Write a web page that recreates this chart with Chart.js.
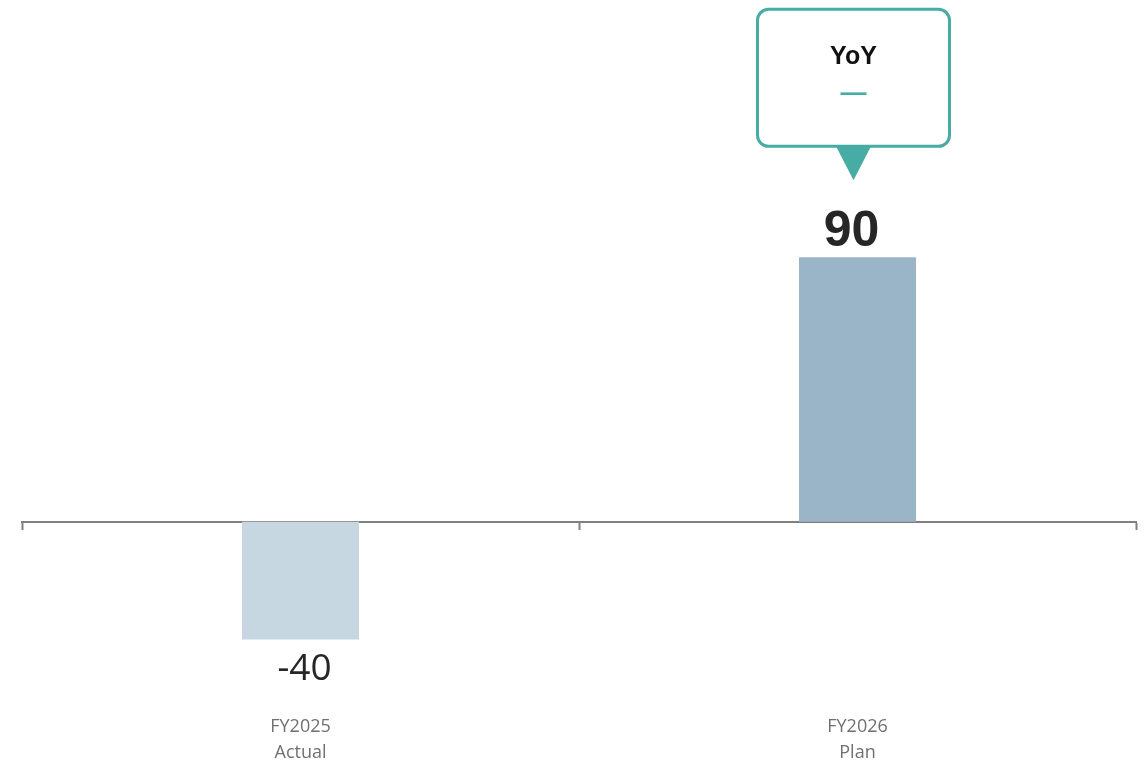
<!DOCTYPE html>
<html>
<head>
<meta charset="utf-8">
<title>FY2025 vs FY2026</title>
<script src="https://cdn.jsdelivr.net/npm/chart.js@4.4.1/dist/chart.umd.min.js"></script>
<style>
  html, body { margin: 0; padding: 0; background: #ffffff; }
  #wrap { width: 1147px; height: 762px; position: relative; }
</style>
</head>
<body>
<div id="wrap"><canvas id="fyChart"></canvas></div>
<script>
// chart data
const categories = [['FY2025', 'Actual'], ['FY2026', 'Plan']];
const values = [-40, 90];
const calloutTitle = 'YoY';
const calloutValue = '—';

const barColors = ['#c6d7e1', '#9ab4c8'];
const teal = '#46aca4';

// value labels: below negative bars, above positive ones
const valueLabels = {
    id: 'valueLabels',
    afterDatasetsDraw(chart) {
        const ctx = chart.ctx;
        const meta = chart.getDatasetMeta(0);
        ctx.save();
        ctx.textAlign = 'center';
        ctx.textBaseline = 'alphabetic';
        meta.data.forEach((bar, i) => {
            const v = values[i];
            if (v < 0) {
                ctx.font = '37px "Open Sans", sans-serif';
                ctx.fillStyle = '#262626';
                ctx.fillText(String(v), bar.x + 4, bar.y + 41);
            } else {
                ctx.font = 'bold 50px "Liberation Sans", Arial, sans-serif';
                ctx.fillStyle = '#262626';
                ctx.fillText(String(v), bar.x - 6, bar.y - 11);
            }
        });
        ctx.restore();
    }
};

// speech-bubble callout above the plan bar
const yoyCallout = {
    id: 'yoyCallout',
    afterDraw(chart) {
        const ctx = chart.ctx;
        const bar = chart.getDatasetMeta(0).data[1];
        const cx = bar.x - 4;
        const tipY = bar.y - 77;
        const w = 192, h = 137, r = 11;
        const left = cx - w / 2, bottom = tipY - 34, top = bottom - h;

        ctx.save();
        ctx.lineWidth = 3;
        ctx.strokeStyle = teal;
        ctx.fillStyle = '#ffffff';
        ctx.beginPath();
        ctx.roundRect(left, top, w, h, r);
        ctx.fill();
        ctx.stroke();

        ctx.fillStyle = teal;
        ctx.beginPath();
        ctx.moveTo(cx - 18, bottom - 1);
        ctx.lineTo(cx + 18, bottom - 1);
        ctx.lineTo(cx, tipY);
        ctx.closePath();
        ctx.fill();

        ctx.textAlign = 'center';
        ctx.textBaseline = 'middle';
        ctx.fillStyle = '#111111';
        ctx.font = 'bold 25px "Liberation Sans", Arial, sans-serif';
        ctx.fillText(calloutTitle, cx, top + 48);
        ctx.fillStyle = teal;
        ctx.font = 'bold 26px "Liberation Sans", Arial, sans-serif';
        ctx.fillText(calloutValue, cx, top + 84);
        ctx.restore();
    }
};

new Chart(document.getElementById('fyChart'), {
    type: 'bar',
    data: {
        labels: categories,
        datasets: [{
            data: values,
            backgroundColor: barColors,
            borderWidth: 0,
            barPercentage: 0.21,
            categoryPercentage: 1.0
        }]
    },
    options: {
        responsive: true,
        maintainAspectRatio: false,
        animation: false,
        layout: { padding: { left: 22, right: 11, top: 81, bottom: 5 } },
        plugins: {
            legend: { display: false },
            tooltip: { enabled: false }
        },
        scales: {
            x: {
                position: { y: 0 },
                offset: true,
                grid: {
                    offset: true,
                    drawOnChartArea: false,
                    tickLength: 7,
                    tickWidth: 2,
                    tickColor: '#808080'
                },
                border: { color: '#808080', width: 2 },
                ticks: {
                    color: '#707070',
                    padding: 185,
                    font: { family: '"Open Sans", sans-serif', size: 18, lineHeight: 1.45 }
                }
            },
            y: {
                display: false,
                min: -80,
                max: 150
            }
        }
    },
    plugins: [valueLabels, yoyCallout]
});
</script>
</body>
</html>
